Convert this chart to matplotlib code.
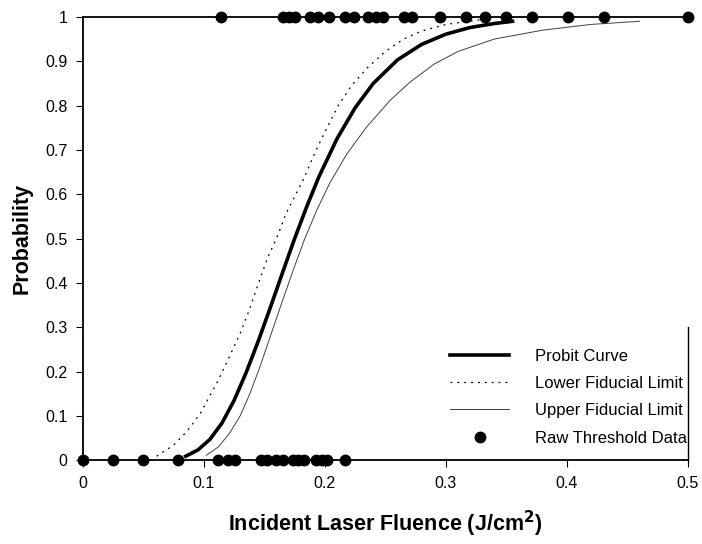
import numpy as np
import matplotlib
matplotlib.use("Agg")
import matplotlib.pyplot as plt

plt.rcParams['font.family'] = ['Liberation Sans', 'DejaVu Sans']

# probit fit and fiducial limits
probit_x = [0.085, 0.095, 0.105, 0.115, 0.125, 0.135, 0.145, 0.155, 0.165, 0.175,
            0.185, 0.195, 0.210, 0.225, 0.240, 0.260, 0.280, 0.300, 0.320, 0.340, 0.355]
probit_y = [0.009, 0.023, 0.047, 0.084, 0.135, 0.198, 0.269, 0.345, 0.423, 0.500,
            0.572, 0.639, 0.725, 0.795, 0.850, 0.903, 0.938, 0.961, 0.976, 0.985, 0.990]

lower_x = [0.061, 0.075, 0.086, 0.097, 0.112, 0.121, 0.130, 0.137, 0.146, 0.153,
           0.160, 0.168, 0.177, 0.182, 0.192, 0.199, 0.211, 0.222, 0.235, 0.250,
           0.265, 0.280, 0.300, 0.330]
lower_y = [0.009, 0.034, 0.065, 0.105, 0.181, 0.233, 0.286, 0.335, 0.406, 0.459,
           0.500, 0.557, 0.605, 0.632, 0.695, 0.735, 0.800, 0.845, 0.885, 0.922,
           0.950, 0.968, 0.983, 0.994]

upper_x = [0.102, 0.112, 0.121, 0.130, 0.138, 0.146, 0.155, 0.165, 0.174, 0.183,
           0.193, 0.204, 0.218, 0.234, 0.254, 0.270, 0.290, 0.310, 0.340, 0.380,
           0.420, 0.460]
upper_y = [0.011, 0.030, 0.060, 0.100, 0.150, 0.208, 0.280, 0.360, 0.430, 0.497,
           0.562, 0.625, 0.690, 0.750, 0.812, 0.852, 0.893, 0.922, 0.950, 0.970,
           0.983, 0.990]

# raw threshold data: fluence of "no damage" (0) and "damage" (1) exposures
raw_zero = [0.0, 0.025, 0.050, 0.079, 0.112, 0.120, 0.126, 0.147, 0.152, 0.160,
            0.165, 0.174, 0.178, 0.183, 0.193, 0.198, 0.202, 0.217]
raw_one = [0.114, 0.165, 0.170, 0.175, 0.188, 0.194, 0.203, 0.217, 0.224, 0.236,
           0.242, 0.248, 0.265, 0.272, 0.295, 0.317, 0.332, 0.350, 0.371, 0.401,
           0.431, 0.500]

fig = plt.figure(figsize=(7.02, 5.44), dpi=100)
ax = fig.add_axes([0.118, 0.154, 0.862, 0.815])

ax.plot(probit_x, probit_y, color='black', lw=2.6, label='Probit Curve')
ax.plot(lower_x, lower_y, color='black', lw=0.9, linestyle=(0, (1.5, 4)),
        label='Lower Fiducial Limit')
ax.plot(upper_x, upper_y, color='0.25', lw=0.7, label='Upper Fiducial Limit')
ax.plot(raw_zero, np.zeros(len(raw_zero)), 'o', color='black', ms=7.5, clip_on=False,
        zorder=5, label='Raw Threshold Data')
ax.plot(raw_one, np.ones(len(raw_one)), 'o', color='black', ms=7.5, clip_on=False,
        zorder=5)

ax.set_xlim(0, 0.5)
ax.set_ylim(0, 1)
ax.set_xticks(np.arange(0, 0.51, 0.1))
ax.set_xticklabels(['0', '0.1', '0.2', '0.3', '0.4', '0.5'])
ax.set_yticks(np.arange(0, 1.01, 0.1))
ax.set_yticklabels(['0', '0.1', '0.2', '0.3', '0.4', '0.5', '0.6', '0.7', '0.8', '0.9', '1'])
ax.tick_params(direction='out', length=5, width=0.8, labelsize=11.5, pad=6)

for s in ['top', 'left', 'bottom']:
    ax.spines[s].set_linewidth(1.3)
ax.spines['right'].set_linewidth(1.0)
ax.spines['right'].set_bounds(0, 0.3)

ax.set_xlabel('Incident Laser Fluence (J/cm$^\\mathbf{2}$)', fontsize=15.5,
              fontweight='bold', labelpad=13)
ax.set_ylabel('Probability', fontsize=15.5, fontweight='bold', labelpad=9)

ax.legend(loc='lower right', frameon=False, fontsize=12, handlelength=3.5,
          handletextpad=1.6, labelspacing=0.74, borderaxespad=0,
          bbox_to_anchor=(1.01, 0.018))

fig.savefig('out.png', dpi=100)
